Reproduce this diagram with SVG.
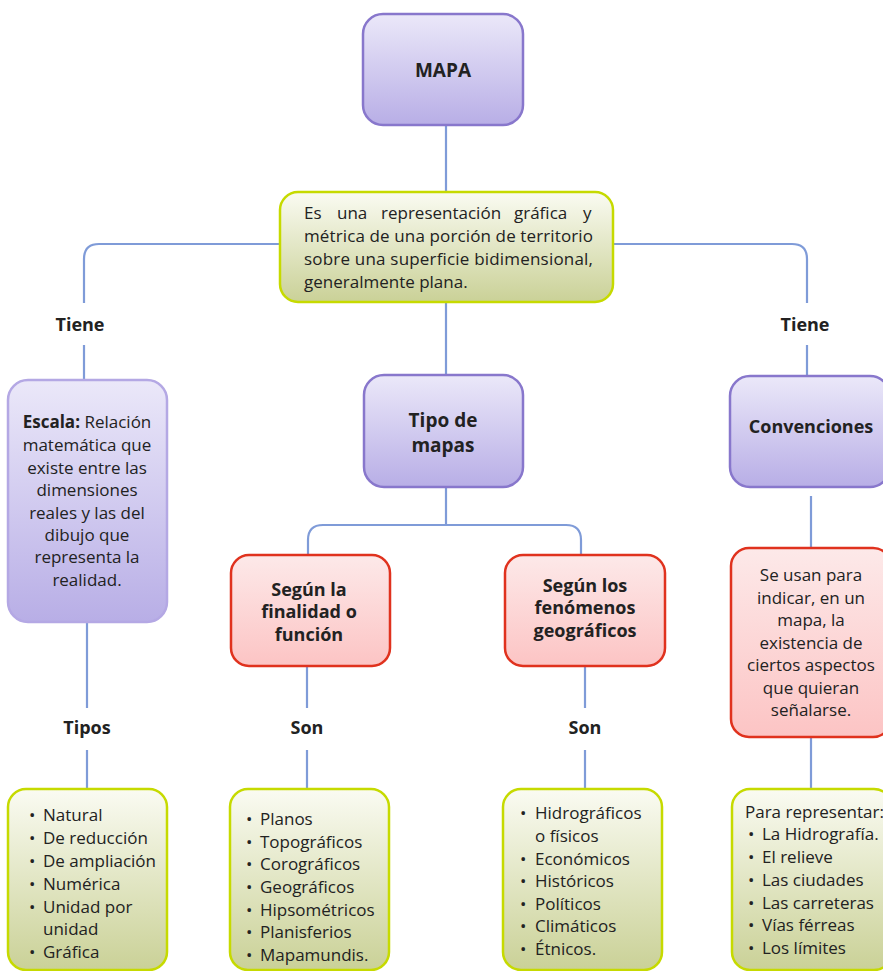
<svg xmlns="http://www.w3.org/2000/svg" width="883" height="971" viewBox="0 0 883 971">
<defs>
<linearGradient id="gP" x1="0" y1="0" x2="0" y2="1"><stop offset="0" stop-color="#ebe8f9"/><stop offset="1" stop-color="#b8aee6"/></linearGradient>
<linearGradient id="gR" x1="0" y1="0" x2="0" y2="1"><stop offset="0" stop-color="#fde9e9"/><stop offset="1" stop-color="#fcc4c4"/></linearGradient>
<linearGradient id="gG" x1="0" y1="0" x2="0" y2="1"><stop offset="0" stop-color="#fafbf2"/><stop offset="1" stop-color="#cad197"/></linearGradient>
<style>
.p{fill:url(#gP);stroke:#8877cc;stroke-width:2.5}
.pl{fill:url(#gP);stroke:#b4a8e4;stroke-width:2.5}
.r{fill:url(#gR);stroke:#e0321e;stroke-width:2.5}
.g{fill:url(#gG);stroke:#c6da00;stroke-width:2.5}
.c{fill:none;stroke:#7f9bd8;stroke-width:2.2}
text{font-family:"Open Sans","Noto Sans","DejaVu Sans",sans-serif;fill:#222;font-size:16px}
.b{font-weight:bold}
.t{font-size:17px}
.m{text-anchor:middle}
.h{font-size:19px;font-weight:bold;text-anchor:middle}
.lb{font-size:18px;font-weight:bold;text-anchor:middle}
</style>
</defs>
<g id="connectors">
<line class="c" x1="446" y1="125" x2="446" y2="192"/>
<path class="c" d="M280 244 H99 Q84 244 84 259 V303"/>
<line class="c" x1="84" y1="345" x2="84" y2="380"/>
<path class="c" d="M613 244 H792 Q807 244 807 259 V303"/>
<line class="c" x1="807" y1="345" x2="807" y2="376"/>
<line class="c" x1="446" y1="302" x2="446" y2="375"/>
<path class="c" d="M446 487 V525 M308 555 V540 Q308 525 323 525 H566 Q581 525 581 540 V555"/>
<line class="c" x1="811" y1="496" x2="811" y2="548"/>
<line class="c" x1="811" y1="737" x2="811" y2="789"/>
<line class="c" x1="87" y1="622" x2="87" y2="708"/>
<line class="c" x1="87" y1="750" x2="87" y2="789"/>
<line class="c" x1="307" y1="666" x2="307" y2="708"/>
<line class="c" x1="307" y1="750" x2="307" y2="789"/>
<line class="c" x1="585" y1="666" x2="585" y2="708"/>
<line class="c" x1="585" y1="750" x2="585" y2="789"/>
<text class="lb" x="80" y="331">Tiene</text>
<text class="lb" x="805" y="331">Tiene</text>
<text class="lb" x="87" y="734">Tipos</text>
<text class="lb" x="307" y="734">Son</text>
<text class="lb" x="585" y="734">Son</text>
</g>
<g id="mapa">
<rect class="p" x="363" y="14" width="160" height="111" rx="20"/>
<text class="h" x="443" y="77">MAPA</text>
</g>
<g id="definicion">
<rect class="g" x="280" y="192" width="333" height="110" rx="18"/>
<text class="t" y="219"><tspan x="304">Es</tspan><tspan x="337">una</tspan><tspan x="381">representación</tspan><tspan x="514">gráfica</tspan><tspan x="583">y</tspan></text>
<text class="t" x="304" y="242" textLength="289" lengthAdjust="spacing">métrica de una porción de territorio</text>
<text class="t" x="304" y="265" textLength="289" lengthAdjust="spacing">sobre una superficie bidimensional,</text>
<text class="t" x="304" y="288">generalmente plana.</text>
</g>
<g id="escala">
<rect class="pl" x="8" y="380" width="159" height="242" rx="20"/>
<text class="t m" x="87" y="428"><tspan class="b">Escala:</tspan> Relación</text>
<text class="t m" x="87" y="451">matemática que</text>
<text class="t m" x="87" y="474">existe entre las</text>
<text class="t m" x="87" y="496">dimensiones</text>
<text class="t m" x="87" y="519">reales y las del</text>
<text class="t m" x="87" y="541">dibujo que</text>
<text class="t m" x="87" y="563">representa la</text>
<text class="t m" x="87" y="586">realidad.</text>
</g>
<g id="tipo">
<rect class="p" x="364" y="375" width="159" height="112" rx="20"/>
<text class="h" x="443" y="427">Tipo de</text>
<text class="h" x="443" y="452">mapas</text>
</g>
<g id="convenciones">
<rect class="p" x="730" y="376" width="160" height="111" rx="20"/>
<text class="lb" x="811" y="433">Convenciones</text>
</g>
<g id="finalidad">
<rect class="r" x="231" y="555" width="159" height="111" rx="18"/>
<text class="lb t" x="309" y="596">Según la</text>
<text class="lb t" x="309" y="618">finalidad o</text>
<text class="lb t" x="309" y="641">función</text>
</g>
<g id="fenomenos">
<rect class="r" x="505" y="555" width="160" height="111" rx="18"/>
<text class="lb t" x="585" y="592">Según los</text>
<text class="lb t" x="585" y="614">fenómenos</text>
<text class="lb t" x="585" y="637">geográficos</text>
</g>
<g id="senalar">
<rect class="r" x="731" y="548" width="160" height="189" rx="18"/>
<text class="t m" x="811" y="581">Se usan para</text>
<text class="t m" x="811" y="604">indicar, en un</text>
<text class="t m" x="811" y="626">mapa, la</text>
<text class="t m" x="811" y="649">existencia de</text>
<text class="t m" x="811" y="671">ciertos aspectos</text>
<text class="t m" x="811" y="694">que quieran</text>
<text class="t m" x="811" y="716">señalarse.</text>
</g>
<g id="tipos-escala">
<rect class="g" x="8" y="789" width="159" height="181" rx="18"/>
<text class="t" x="29" y="821">•</text><text class="t" x="43" y="821">Natural</text>
<text class="t" x="29" y="844">•</text><text class="t" x="43" y="844">De reducción</text>
<text class="t" x="29" y="867">•</text><text class="t" x="43" y="867">De ampliación</text>
<text class="t" x="29" y="890">•</text><text class="t" x="43" y="890">Numérica</text>
<text class="t" x="29" y="913">•</text><text class="t" x="43" y="913">Unidad por</text>
<text class="t" x="43" y="935">unidad</text>
<text class="t" x="29" y="958">•</text><text class="t" x="43" y="958">Gráfica</text>
</g>
<g id="tipos-finalidad">
<rect class="g" x="230" y="789" width="159" height="181" rx="18"/>
<text class="t" x="246" y="825">•</text><text class="t" x="260" y="825">Planos</text>
<text class="t" x="246" y="848">•</text><text class="t" x="260" y="848">Topográficos</text>
<text class="t" x="246" y="870">•</text><text class="t" x="260" y="870">Corográficos</text>
<text class="t" x="246" y="893">•</text><text class="t" x="260" y="893">Geográficos</text>
<text class="t" x="246" y="916">•</text><text class="t" x="260" y="916">Hipsométricos</text>
<text class="t" x="246" y="938">•</text><text class="t" x="260" y="938">Planisferios</text>
<text class="t" x="246" y="961">•</text><text class="t" x="260" y="961">Mapamundis.</text>
</g>
<g id="tipos-fenomenos">
<rect class="g" x="503" y="789" width="159" height="181" rx="18"/>
<text class="t" x="520" y="819">•</text><text class="t" x="535" y="819">Hidrográficos</text>
<text class="t" x="535" y="842">o físicos</text>
<text class="t" x="520" y="865">•</text><text class="t" x="535" y="865">Económicos</text>
<text class="t" x="520" y="887">•</text><text class="t" x="535" y="887">Históricos</text>
<text class="t" x="520" y="910">•</text><text class="t" x="535" y="910">Políticos</text>
<text class="t" x="520" y="932">•</text><text class="t" x="535" y="932">Climáticos</text>
<text class="t" x="520" y="955">•</text><text class="t" x="535" y="955">Étnicos.</text>
</g>
<g id="representar">
<rect class="g" x="732" y="789" width="160" height="181" rx="18"/>
<text class="t" x="745" y="818">Para representar:</text>
<text class="t" x="748" y="840">•</text><text class="t" x="762" y="840">La Hidrografía.</text>
<text class="t" x="748" y="863">•</text><text class="t" x="762" y="863">El relieve</text>
<text class="t" x="748" y="886">•</text><text class="t" x="762" y="886">Las ciudades</text>
<text class="t" x="748" y="909">•</text><text class="t" x="762" y="909">Las carreteras</text>
<text class="t" x="748" y="931">•</text><text class="t" x="762" y="931">Vías férreas</text>
<text class="t" x="748" y="954">•</text><text class="t" x="762" y="954">Los límites</text>
</g>
</svg>
